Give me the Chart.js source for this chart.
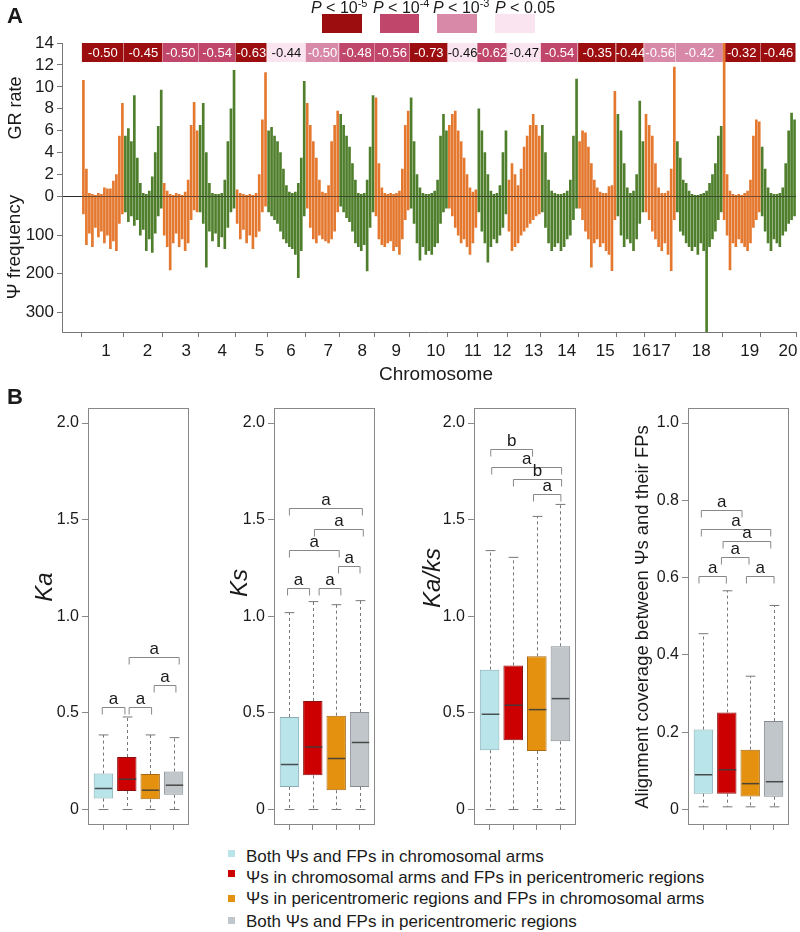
<!DOCTYPE html>
<html>
<head>
<meta charset="utf-8">
<title>GR rate and pseudogene frequency</title>
<script src="https://cdn.jsdelivr.net/npm/chart.js@4.4.1/dist/chart.umd.min.js"></script>
<style>
  body { margin: 0; background: #fff; }
  #page { position: relative; width: 800px; height: 932px; overflow: hidden; font-family: "Liberation Sans", Arial, sans-serif; color: #1a1a1a; }
  canvas { position: absolute; }
  .tag { position: absolute; font-size: 22px; font-weight: bold; }
  .plab { position: absolute; top: -1px; font-size: 16px; line-height: 18px; white-space: nowrap; }
  .plab sup { font-size: 11px; line-height: 0; }
  .pbox { position: absolute; top: 14px; height: 19px; }
  .sq { position: absolute; left: 228px; width: 7px; height: 7px; }
  .leg { position: absolute; left: 246px; font-size: 17px; line-height: 20px; white-space: nowrap; }
</style>
</head>
<body>
<div id="page">
  <canvas id="chartA" width="800" height="395" style="left:0;top:0"></canvas>
  <canvas id="chartKa" width="200" height="445" style="left:0;top:395px"></canvas>
  <canvas id="chartKs" width="185" height="445" style="left:200px;top:395px"></canvas>
  <canvas id="chartKaKs" width="200" height="445" style="left:385px;top:395px"></canvas>
  <canvas id="chartCov" width="210" height="445" style="left:590px;top:395px"></canvas>

  <div class="tag" style="left:7px;top:3px">A</div>
  <div class="tag" style="left:7px;top:384px">B</div>

  <div class="plab" style="left:311px"><i>P</i> &lt; 10<sup>-5</sup></div>
  <div class="plab" style="left:373px"><i>P</i> &lt; 10<sup>-4</sup></div>
  <div class="plab" style="left:433px"><i>P</i> &lt; 10<sup>-3</sup></div>
  <div class="plab" style="left:495px"><i>P</i> &lt; 0.05</div>
  <div class="pbox" style="left:322px;width:40px;background:#9c0d10"></div>
  <div class="pbox" style="left:380px;width:39px;background:#c0466c"></div>
  <div class="pbox" style="left:437px;width:40px;background:#d889a8"></div>
  <div class="pbox" style="left:495px;width:40px;background:#f9e4ef"></div>

  <div class="sq" style="top:850px;background:#b9e5ea"></div>
  <div class="sq" style="top:870px;background:#cc0000"></div>
  <div class="sq" style="top:895px;background:#e3910f"></div>
  <div class="sq" style="top:917px;background:#c0c6ca"></div>
  <div class="leg" style="top:847px">Both Ψs and FPs in chromosomal arms</div>
  <div class="leg" style="top:868px">Ψs in chromosomal arms and FPs in pericentromeric regions</div>
  <div class="leg" style="top:889px">Ψs in pericentromeric regions and FPs in chromosomal arms</div>
  <div class="leg" style="top:912px">Both Ψs and FPs in pericentromeric regions</div>
</div>

<script>
// ---- panel A data ----
const chromosomes = ['1','2','3','4','5','6','7','8','9','10','11','12','13','14','15','16','17','18','19','20'];
const chrLengthMb = [55.9, 51.7, 47.8, 49.2, 42.0, 51.4, 44.6, 47.0, 46.8, 50.9, 39.2, 40.1, 44.4, 49.7, 50.9, 37.4, 41.9, 62.3, 50.6, 47.0];
// where the chromosome number sits, Mb from chromosome start
const chrLabelMb = [31.9, 31.3, 31.4, 31.4, 31.8, 31.9, 30.0, 30.6, 29.0, 34.6, 33.3, 33.0, 35.0, 34.4, 36.1, 33.4, 22.5, 33.8, 36.1, 36.4];
const corrValues = ['-0.50','-0.45','-0.50','-0.54','-0.63','-0.44','-0.50','-0.48','-0.56','-0.73','-0.46','-0.62','-0.47','-0.54','-0.35','-0.44','-0.56','-0.42','-0.32','-0.46'];
// 0: P<1e-5, 1: P<1e-4, 2: P<1e-3, 3: P<0.05
const corrLevels = [0,0,1,1,0,3,2,1,1,0,3,1,3,1,0,0,2,2,0,0];

const grRate = [
  [10.6, 2.5, 0.3, 0.2, 0.1, 0.3, 0.2, 0.8, 0.7, 0.7, 1.4, 2.0, 5.5, 8.5],
  [5.5, 6.2, 5.0, 9.2, 3.5, 1.2, 0.3, 0.2, 0.5, 1.8, 4.0, 6.4, 9.7],
  [1.2, 0.5, 0.2, 0.1, 0.3, 0.2, 0.1, 0.4, 1.5, 6.5, 8.6, 6.0],
  [6.5, 8.5, 4.0, 1.2, 0.3, 0.2, 0.2, 0.3, 1.5, 5.0, 8.0, 11.5],
  [0.6, 0.3, 0.2, 0.1, 0.2, 0.1, 0.3, 2.0, 7.0, 11.3],
  [6.0, 6.3, 5.5, 5.0, 4.0, 2.5, 1.0, 0.4, 0.3, 0.4, 1.2, 3.5, 10.5],
  [8.5, 6.5, 5.0, 3.5, 1.5, 0.4, 0.3, 1.0, 5.0, 6.5, 7.8],
  [7.5, 6.5, 5.5, 4.5, 3.0, 1.5, 0.3, 0.2, 0.3, 1.5, 4.5, 9.2],
  [9.0, 3.0, 0.8, 0.3, 0.2, 0.3, 0.2, 0.3, 0.5, 2.5, 6.5, 7.8],
  [9.0, 5.0, 2.0, 0.8, 0.3, 0.2, 0.2, 0.3, 0.5, 1.5, 5.5, 7.5, 6.0],
  [6.5, 7.5, 7.8, 6.0, 5.0, 3.5, 2.0, 0.8, 0.4, 0.6],
  [8.0, 6.0, 4.0, 2.0, 0.5, 0.2, 0.3, 1.0, 4.0, 6.0],
  [1.5, 3.0, 2.0, 1.0, 2.5, 4.5, 5.5, 6.5, 7.5, 6.5, 5.5],
  [6.5, 4.0, 1.5, 0.5, 0.3, 0.2, 0.2, 0.3, 0.5, 1.5, 5.5, 10.7],
  [5.0, 6.0, 5.8, 4.5, 3.0, 1.5, 0.8, 0.4, 0.3, 0.3, 0.9, 1.0, 9.6],
  [7.5, 6.0, 3.0, 0.8, 0.3, 0.5, 2.0, 8.7, 5.0],
  [7.5, 6.5, 5.5, 3.0, 0.8, 0.3, 0.3, 0.5, 2.5, 11.8],
  [5.0, 3.5, 1.5, 1.2, 0.5, 0.2, 0.1, 0.1, 0.2, 0.3, 0.5, 1.2, 2.0, 3.0, 5.5, 6.4],
  [14.0, 2.0, 0.5, 0.2, 0.1, 0.2, 0.1, 0.3, 0.5, 1.5, 5.5, 7.0, 6.8],
  [4.5, 2.5, 0.8, 0.3, 0.2, 0.2, 0.3, 0.8, 3.0, 6.0, 7.6, 7.0]
];

const psiFreq = [
  [45, 125, 95, 130, 80, 105, 90, 120, 100, 135, 115, 140, 70, 45],
  [40, 65, 50, 75, 60, 100, 85, 140, 110, 145, 95, 50, 30],
  [100, 130, 190, 120, 95, 130, 110, 140, 120, 60, 35, 40],
  [40, 70, 183, 90, 115, 95, 130, 105, 135, 80, 40, 30],
  [70, 110, 85, 120, 100, 135, 105, 90, 40, 25],
  [40, 50, 60, 70, 90, 110, 120, 130, 135, 150, 210, 140, 50],
  [30, 80, 110, 120, 100, 110, 115, 120, 110, 90, 40],
  [25, 40, 55, 65, 90, 120, 130, 140, 125, 193, 80, 40],
  [50, 110, 125, 130, 120, 115, 140, 130, 150, 110, 60, 35],
  [30, 70, 120, 165, 130, 150, 140, 150, 130, 120, 70, 40, 30],
  [30, 50, 80, 100, 120, 110, 130, 150, 120, 80],
  [40, 90, 120, 170, 130, 110, 120, 100, 80, 45],
  [90, 140, 130, 120, 100, 90, 80, 70, 60, 50, 45],
  [40, 80, 120, 140, 130, 120, 140, 130, 110, 100, 60, 30],
  [30, 60, 90, 110, 183, 120, 110, 130, 120, 140, 150, 192, 60],
  [50, 100, 130, 110, 120, 140, 110, 70, 40],
  [40, 60, 90, 110, 130, 140, 120, 150, 192, 60],
  [40, 90, 100, 120, 130, 140, 130, 150, 120, 140, 350, 130, 110, 90, 60, 40],
  [60, 100, 190, 120, 130, 110, 120, 130, 140, 120, 80, 60, 40],
  [50, 90, 120, 140, 110, 120, 130, 100, 90, 70, 60, 50]
];

// ---- panel B data: [lower whisker, Q1, median, Q3, upper whisker] ----
const groupNames = [
  'Both Ψs and FPs in chromosomal arms',
  'Ψs in chromosomal arms and FPs in pericentromeric regions',
  'Ψs in pericentromeric regions and FPs in chromosomal arms',
  'Both Ψs and FPs in pericentromeric regions'
];
const kaStats = [[0, 0.057, 0.109, 0.186, 0.386], [0, 0.096, 0.157, 0.272, 0.479], [0, 0.053, 0.100, 0.184, 0.386], [0, 0.076, 0.126, 0.197, 0.372]];
const ksStats = [[0, 0.117, 0.233, 0.479, 1.019], [0, 0.177, 0.324, 0.562, 1.076], [0, 0.100, 0.264, 0.486, 1.060], [0, 0.117, 0.347, 0.505, 1.081]];
const kaksStats = [[0, 0.307, 0.493, 0.724, 1.340], [0, 0.358, 0.540, 0.746, 1.305], [0, 0.303, 0.517, 0.793, 1.517], [0, 0.353, 0.574, 0.845, 1.579]];
const covStats = [[0.007, 0.041, 0.090, 0.207, 0.455], [0.007, 0.041, 0.103, 0.251, 0.566], [0.007, 0.034, 0.067, 0.155, 0.345], [0.007, 0.033, 0.072, 0.229, 0.528]];

// significance brackets: [from group, to group, level, letter]
const kaBrackets = [[0.95, 1.92, 0.531, 'a'], [2.10, 3.06, 0.531, 'a'], [3.17, 4.10, 0.643, 'a'], [2.10, 4.24, 0.790, 'a']];
const ksBrackets = [[0.92, 1.86, 1.148, 'a'], [2.27, 3.20, 1.148, 'a'], [3.10, 4.02, 1.260, 'a'], [1.00, 3.13, 1.343, 'a'], [2.07, 4.16, 1.454, 'a'], [1.00, 4.12, 1.562, 'a']];
const kaksBrackets = [[1.05, 2.82, 1.868, 'b'], [1.09, 4.05, 1.772, 'a'], [2.01, 4.05, 1.709, 'b'], [2.86, 4.02, 1.633, 'a']];
const covBrackets = [[0.91, 2.65, 0.774, 'a'], [0.91, 3.88, 0.727, 'a'], [1.84, 3.88, 0.694, 'a'], [1.77, 2.95, 0.653, 'a'], [0.81, 1.98, 0.604, 'a'], [2.84, 4.02, 0.604, 'a']];

// ---- styles ----
const FONT = '"Liberation Sans", Arial, sans-serif';
Chart.defaults.font.family = FONT;
Chart.defaults.color = '#1a1a1a';
const orange = '#e4782f';
const green = '#4f7f2c';
const pColors = ['#9c0d10', '#c0466c', '#d889a8', '#f9e4ef'];
const boxFill = ['#b9e5ea', '#cc0000', '#e3910f', '#c0c6ca'];
const boxEdge = ['#86aeb4', '#8a1010', '#a86a10', '#858b90'];

// free text (axis titles) drawn on the canvas
const textPlugin = {
  id: 'freeText',
  afterDraw(chart, args, opts) {
    const ctx = chart.ctx;
    (opts.items || []).forEach(t => {
      ctx.save();
      ctx.translate(t.x, t.y);
      if (t.rot) ctx.rotate(t.rot);
      ctx.font = t.font;
      ctx.fillStyle = '#1a1a1a';
      ctx.textAlign = 'center';
      ctx.textBaseline = 'middle';
      ctx.fillText(t.text, 0, 0);
      ctx.restore();
    });
  }
};

// ---- build panel A points ----
const chrStartMb = [];
let acc = 0;
chrLengthMb.forEach(len => { chrStartMb.push(acc); acc += len; });
const genomeMb = acc;

const grPoints = [], psiPoints = [], barChr = [];
grRate.forEach((bins, c) => {
  const w = chrLengthMb[c] / bins.length;
  bins.forEach((v, i) => {
    const x = chrStartMb[c] + (i + 0.5) * w;
    grPoints.push({x, y: v});
    psiPoints.push({x, y: psiFreq[c][i]});
    barChr.push(c);
  });
});

const xTicks = chrStartMb.map(s => ({value: s, label: ''}));
xTicks.push({value: genomeMb, label: ''});
chromosomes.forEach((name, c) => xTicks.push({value: chrStartMb[c] + chrLabelMb[c], label: name}));
xTicks.sort((a, b) => a.value - b.value);

const corrBoxes = {
  id: 'corrBoxes',
  beforeDatasetsDraw(chart) {
    const {ctx, chartArea, scales: {x}} = chart;
    const top = chartArea.top, h = 19;
    ctx.save();
    corrValues.forEach((v, c) => {
      const x0 = x.getPixelForValue(chrStartMb[c]);
      const x1 = x.getPixelForValue(chrStartMb[c] + chrLengthMb[c]);
      ctx.fillStyle = pColors[corrLevels[c]];
      ctx.fillRect(x0, top, x1 - x0, h);
      ctx.fillStyle = '#fff';
      ctx.fillRect(Math.round(x1) - 0.5, top, 1, h);
      ctx.fillStyle = corrLevels[c] === 3 ? '#111' : '#fff';
      ctx.font = '13px ' + FONT;
      ctx.textAlign = 'center';
      ctx.textBaseline = 'middle';
      ctx.fillText(v, (x0 + x1) / 2, top + h / 2 + 1);
    });
    ctx.restore();
  }
};

const barColor = ctx => (barChr[ctx.dataIndex] % 2 === 0 ? orange : green);

new Chart(document.getElementById('chartA'), {
  type: 'bar',
  data: {
    datasets: [
      { data: psiPoints, yAxisID: 'yPsi', backgroundColor: barColor, barThickness: 2, grouped: false },
      { data: grPoints, yAxisID: 'yGR', backgroundColor: barColor, barThickness: 2, grouped: false }
    ]
  },
  options: {
    responsive: false,
    animation: false,
    events: [],
    layout: { padding: { top: 43, right: 2, left: 0, bottom: 0 } },
    plugins: {
      legend: { display: false },
      tooltip: { enabled: false },
      freeText: { items: [
        { text: 'GR rate', x: 16, y: 108, rot: -Math.PI / 2, font: '18px ' + FONT },
        { text: 'Ψ frequency', x: 15, y: 247, rot: -Math.PI / 2, font: '19px ' + FONT },
        { text: 'Chromosome', x: 436, y: 375, font: '19px ' + FONT }
      ] }
    },
    scales: {
      x: {
        type: 'linear', min: -26.5, max: genomeMb, offset: false,
        afterBuildTicks: s => { s.ticks = xTicks.map(t => ({value: t.value})); },
        ticks: { autoSkip: false, maxRotation: 0, padding: 4, font: { size: 17 }, color: '#1a1a1a',
                 callback: (v, i) => xTicks[i].label },
        grid: { offset: false, drawOnChartArea: false, tickLength: 5,
                tickColor: ctx => (xTicks[ctx.index] && xTicks[ctx.index].label ? 'rgba(0,0,0,0)' : '#777') },
        border: { color: '#777' },
        afterFit: s => { s.height = 63; }
      },
      yPsi: {
        position: 'left', stack: 'a', stackWeight: 135.5, reverse: true, min: 0, max: 351,
        afterBuildTicks: s => { s.ticks = [100, 200, 300].map(v => ({value: v})); },
        ticks: { autoSkip: false, font: { size: 17 }, color: '#1a1a1a', padding: 3 },
        grid: { drawOnChartArea: false, tickLength: 5, tickColor: '#777' },
        border: { color: '#777' },
        afterFit: s => { s.width = 62; }
      },
      yGR: {
        position: 'left', stack: 'a', stackWeight: 153.5, min: 0, max: 14,
        afterBuildTicks: s => { s.ticks = [0, 2, 4, 6, 8, 10, 12, 14].map(v => ({value: v})); },
        ticks: { autoSkip: false, font: { size: 17 }, color: '#1a1a1a', padding: 3 },
        grid: { tickLength: 5, tickColor: '#777',
                color: ctx => (ctx.tick && ctx.tick.value === 0 ? '#2b2b2b' : 'rgba(0,0,0,0)') },
        border: { color: '#777' },
        afterFit: s => { s.width = 62; }
      }
    }
  },
  plugins: [corrBoxes, textPlugin]
});

// ---- panel B box plots ----
const boxPlugin = {
  id: 'boxExtras',
  afterDatasetsDraw(chart, args, opts) {
    const {ctx, chartArea: a, scales: {x, y}} = chart;
    const bars = chart.getDatasetMeta(0).data;
    const seg = (x0, y0, x1, y1) => { ctx.beginPath(); ctx.moveTo(x0, y0); ctx.lineTo(x1, y1); ctx.stroke(); };
    ctx.save();
    opts.stats.forEach((s, i) => {
      const cx = Math.round(x.getPixelForValue(i + 1)) + 0.5;
      const half = bars[i].width / 2;
      const py = v => y.getPixelForValue(v);
      ctx.strokeStyle = '#777';
      ctx.lineWidth = 1;
      ctx.setLineDash([3, 3]);
      seg(cx, py(s[3]), cx, py(s[4]));
      seg(cx, py(s[1]), cx, py(s[0]));
      ctx.setLineDash([]);
      seg(cx - half / 2, py(s[4]), cx + half / 2, py(s[4]));
      seg(cx - half / 2, py(s[0]), cx + half / 2, py(s[0]));
      ctx.strokeStyle = 'rgba(60,60,60,0.9)';
      ctx.lineWidth = 1.5;
      seg(cx - half + 1, py(s[2]), cx + half - 1, py(s[2]));
    });
    ctx.strokeStyle = '#888';
    ctx.lineWidth = 1;
    ctx.font = '17px ' + FONT;
    ctx.textAlign = 'center';
    ctx.textBaseline = 'alphabetic';
    ctx.fillStyle = '#1a1a1a';
    opts.brackets.forEach(([g1, g2, lvl, txt]) => {
      const x1 = x.getPixelForValue(g1), x2 = x.getPixelForValue(g2);
      const yy = Math.round(y.getPixelForValue(lvl)) + 0.5;
      ctx.beginPath();
      ctx.moveTo(x1, yy + 7); ctx.lineTo(x1, yy); ctx.lineTo(x2, yy); ctx.lineTo(x2, yy + 7);
      ctx.stroke();
      ctx.fillText(txt, (x1 + x2) / 2, yy - 3.5);
    });
    ctx.strokeStyle = '#888';
    ctx.strokeRect(Math.round(a.left) + 0.5, Math.round(a.top) + 0.5, Math.round(a.width) - 1, Math.round(a.height) - 1);
    ctx.restore();
  }
};

function drawBoxPanel(id, stats, brackets, yMax, yStep, yWidth, padRight, title) {
  const ticks = [];
  for (let v = 0; v <= yMax + 1e-9; v += yStep) ticks.push(+v.toFixed(2));
  const ext = yMax * 0.04;
  new Chart(document.getElementById(id), {
    type: 'bar',
    data: {
      datasets: [{
        data: stats.map((s, i) => ({x: i + 1, y: [s[1], s[3]]})),
        backgroundColor: boxFill,
        borderColor: boxEdge,
        borderWidth: 1,
        borderSkipped: false,
        barPercentage: 0.83,
        categoryPercentage: 1
      }]
    },
    options: {
      responsive: false,
      animation: false,
      events: [],
      layout: { padding: { top: 12, right: padRight, left: 0, bottom: 0 } },
      plugins: {
        legend: { display: false },
        tooltip: { enabled: false },
        boxExtras: { stats, brackets },
        freeText: { items: [title] }
      },
      scales: {
        x: {
          type: 'linear', min: 0.34, max: 4.66, offset: false,
          afterBuildTicks: s => { s.ticks = [1, 2, 3, 4].map(v => ({value: v})); },
          ticks: { callback: () => '' },
          grid: { offset: false, drawOnChartArea: false, tickLength: 5, tickColor: '#888' },
          border: { display: false },
          afterFit: s => { s.height = 15; }
        },
        y: {
          min: -ext, max: yMax + ext,
          afterBuildTicks: s => { s.ticks = ticks.map(v => ({value: v})); },
          ticks: { autoSkip: false, font: { size: 16 }, color: '#1a1a1a', padding: 3,
                   callback: v => (v === 0 ? '0' : v.toFixed(1)) },
          grid: { drawOnChartArea: false, tickLength: 6, tickColor: '#888' },
          border: { display: false },
          afterFit: s => { s.width = yWidth; }
        }
      }
    },
    plugins: [boxPlugin, textPlugin]
  });
}

drawBoxPanel('chartKa', kaStats, kaBrackets, 2, 0.5, 88, 11,
  { text: 'Ka', x: 45, y: 192, rot: -Math.PI / 2, font: 'italic 24px ' + FONT });
drawBoxPanel('chartKs', ksStats, ksBrackets, 2, 0.5, 74, 10,
  { text: 'Ks', x: 40, y: 188, rot: -Math.PI / 2, font: 'italic 24px ' + FONT });
drawBoxPanel('chartKaKs', kaksStats, kaksBrackets, 2, 0.5, 89, 9,
  { text: 'Ka/ks', x: 48, y: 183, rot: -Math.PI / 2, font: 'italic 24px ' + FONT });
drawBoxPanel('chartCov', covStats, covBrackets, 1, 0.2, 98, 11,
  { text: 'Alignment coverage between Ψs and their FPs', x: 53, y: 222, rot: -Math.PI / 2, font: '18.5px ' + FONT });
</script>
</body>
</html>
